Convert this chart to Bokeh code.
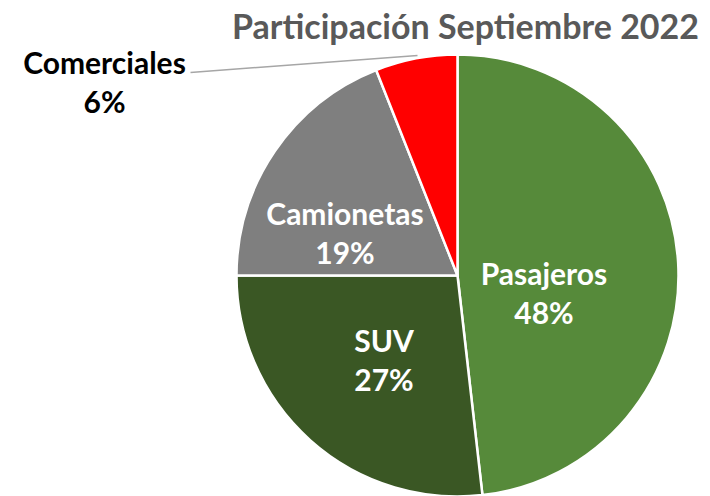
import math
from bokeh.plotting import figure
from bokeh.models import Range1d, ColumnDataSource
from bokeh.core.properties import value
from bokeh.embed import file_html
from bokeh.resources import INLINE

# ---- data ----
categories = ["Pasajeros", "SUV", "Camionetas", "Comerciales"]
shares = [48.2, 26.8, 19.0, 6.0]
pct_labels = ["48%", "27%", "19%", "6%"]
colors = ["#568A3A", "#3A5724", "#7F7F7F", "#FF0000"]
title_text = "Participación Septiembre 2022"

# ---- layout (screen pixel coordinates of the page) ----
W, H = 710, 496
FONT = "Lato"
cx_s, cy_s, R = 457, 275, 221
# label anchor: (center x, baseline of first line) in screen px
label_pos = [(543.5, 283), (383.5, 350), (344.5, 223), (104, 72)]
line_gap = 39
label_colors = ["white", "white", "white", "black"]
BASE_FIX = -11  # renderer baseline offset correction


def Y(ys):
    return H - ys


p = figure(width=W, height=H, output_backend="svg", toolbar_location=None,
           x_range=Range1d(0, W), y_range=Range1d(0, H),
           min_border=0)
p.axis.visible = False
p.grid.visible = False
p.outline_line_color = None
p.background_fill_color = "white"
p.border_fill_color = "white"

total = sum(shares)
starts, ends = [], []
cum = 0.0
for s in shares:
    a0 = math.pi / 2 - 2 * math.pi * cum / total
    cum += s
    a1 = math.pi / 2 - 2 * math.pi * cum / total
    starts.append(a0)
    ends.append(a1)

src = ColumnDataSource(dict(x=[cx_s] * len(shares), y=[Y(cy_s)] * len(shares),
                            start=starts, end=ends, color=colors))
p.wedge(x="x", y="y", radius=R, start_angle="start", end_angle="end",
        direction="clock", fill_color="color", line_color="white",
        line_width=2.5, source=src)

# leader line for Comerciales
p.line(x=[190, 417], y=[Y(72), Y(55)], line_color="#A6A6A6", line_width=1.5)

tx, ty, tt, tc = [], [], [], []
for i, cat in enumerate(categories):
    lx, lb = label_pos[i]
    tx += [lx, lx]
    ty += [Y(lb + BASE_FIX), Y(lb + line_gap + BASE_FIX)]
    tt += [cat, pct_labels[i]]
    tc += [label_colors[i], label_colors[i]]
p.text(x=tx, y=ty, text=tt, text_color=tc, text_font=value(FONT),
       text_font_style="bold", text_font_size="30px", text_align="center",
       text_baseline="alphabetic")

p.text(x=[465], y=[Y(37 + BASE_FIX - 1)], text=[title_text], text_color="#595959",
       text_font=value(FONT), text_font_style="bold", text_font_size="34px",
       text_align="center", text_baseline="alphabetic")

open("out.html", "w").write(file_html(p, INLINE))
